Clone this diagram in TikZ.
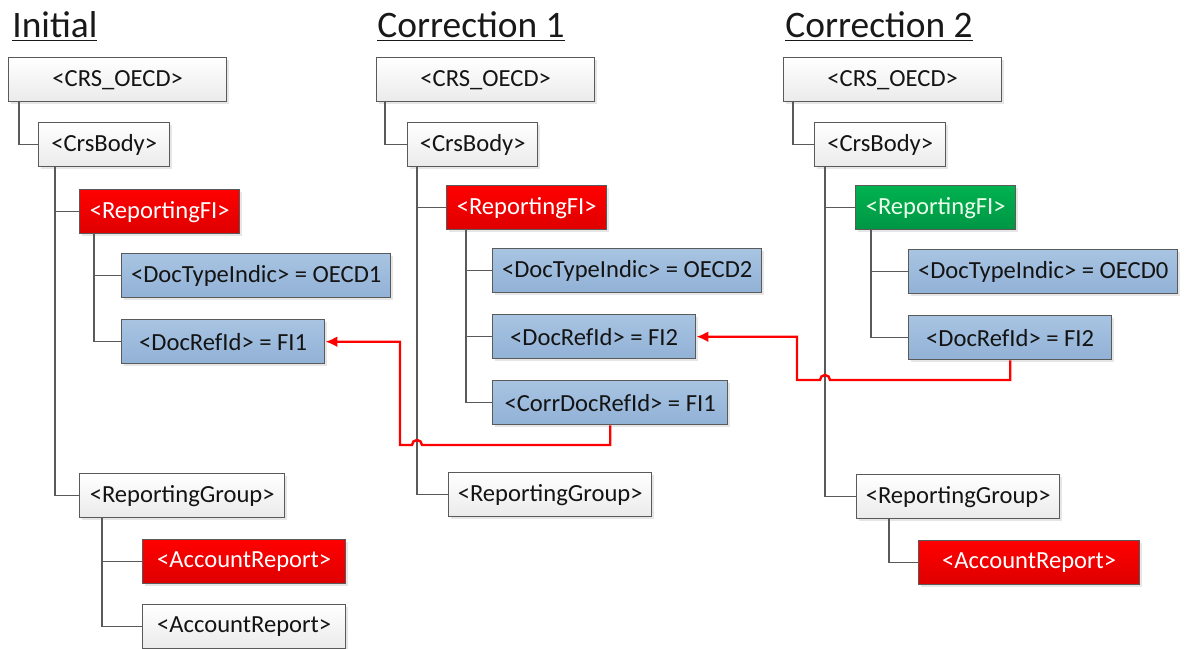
\documentclass[tikz,border=0pt]{standalone}
\usepackage{fontspec}
\setmainfont{Carlito}
\usepackage{xcolor}
\usepackage{tikz}
\usetikzlibrary{calc, arrows.meta, shadows}
\definecolor{boxline}{RGB}{90,90,90}
\definecolor{boxtext}{RGB}{20,20,20}
\definecolor{blueTop}{RGB}{168,196,226}
\definecolor{blueBot}{RGB}{145,177,214}
\definecolor{redTop}{RGB}{255,0,0}
\definecolor{redBot}{RGB}{222,0,0}
\definecolor{greenTop}{RGB}{0,178,80}
\definecolor{greenBot}{RGB}{0,150,68}
\tikzset{
    box/.style={
        rectangle, draw=boxline, line width=0.7pt, anchor=north west,
        minimum height=22pt, inner sep=0pt, align=center,
        font=\fontsize{12.3}{14}\selectfont, text=boxtext,
        drop shadow={shadow xshift=1.2pt, shadow yshift=-1.2pt, opacity=0.2}
    },
    plain/.style={box, top color=white, bottom color=black!8},
    field/.style={box, top color=blueTop, bottom color=blueBot},
    changed/.style={box, top color=redTop, bottom color=redBot, text=white},
    fresh/.style={box, top color=greenTop, bottom color=greenBot, text=white!92!green},
    title/.style={anchor=base west, inner sep=0pt, font=\fontsize{18.7}{22}\selectfont, text=black!90},
    link/.style={draw=boxline, line width=0.75pt},
    reflink/.style={-{Latex[length=6pt,width=5.5pt]}, draw=red, line width=1.2pt}
}

\begin{document}
\begin{tikzpicture}[x=0.5pt, y=-0.5pt]
        \useasboundingbox (0,0) rectangle (1187,648);

        % Titles
        \node[title] (titleA) at (12,37) {\underline{Initial}};
        \node[title] (titleB) at (377,37) {\underline{Correction 1}};
        \node[title] (titleC) at (785,37) {\underline{Correction 2}};

        % Initial
        \node[plain, minimum width=109pt] (crsA) at (8,57) {<CRS\_OECD>};
        \node[plain, minimum width=65.5pt] (bodyA) at (38,122) {<CrsBody>};
        \node[changed, minimum width=80pt] (fiA) at (79,189) {<ReportingFI>};
        \node[field, minimum width=134.5pt] (typeA) at (121,253) {<DocTypeIndic> = OECD1};
        \node[field, minimum width=101.5pt] (refA) at (121,319) {<DocRefId> = FI1};
        \node[plain, minimum width=102.5pt] (groupA) at (79,473) {<ReportingGroup>};
        \node[changed, minimum width=101.5pt] (accA1) at (142,539) {<AccountReport>};
        \node[plain, minimum width=101.5pt] (accA2) at (142,604) {<AccountReport>};

        \draw[link] ([xshift=5.5pt]crsA.south west) |- (bodyA.west);
        \draw[link] ([xshift=8.5pt]bodyA.south west) |- (fiA.west)
                    ([xshift=8.5pt]bodyA.south west) |- (groupA.west);
        \draw[link] ([xshift=7.5pt]fiA.south west) |- (typeA.west)
                    ([xshift=7.5pt]fiA.south west) |- (refA.west);
        \draw[link] ([xshift=11.5pt]groupA.south west) |- (accA1.west)
                    ([xshift=11.5pt]groupA.south west) |- (accA2.west);

        % Correction 1
        \node[plain, minimum width=109pt] (crsB) at (376,57) {<CRS\_OECD>};
        \node[plain, minimum width=65pt] (bodyB) at (407,122) {<CrsBody>};
        \node[changed, minimum width=80pt] (fiB) at (446,185) {<ReportingFI>};
        \node[field, minimum width=134.5pt] (typeB) at (492,248) {<DocTypeIndic> = OECD2};
        \node[field, minimum width=101.5pt] (refB) at (492,314) {<DocRefId> = FI2};
        \node[field, minimum width=117.5pt] (corrB) at (492,380) {<CorrDocRefId> = FI1};
        \node[plain, minimum width=101.5pt] (groupB) at (448,472) {<ReportingGroup>};

        \draw[link] ([xshift=4.5pt]crsB.south west) |- (bodyB.west);
        \draw[link] ([xshift=5pt]bodyB.south west) |- (fiB.west)
                    ([xshift=5pt]bodyB.south west) |- (groupB.west);
        \draw[link] ([xshift=10pt]fiB.south west) |- (typeB.west)
                    ([xshift=10pt]fiB.south west) |- (refB.west)
                    ([xshift=10pt]fiB.south west) |- (corrB.west);

        % Correction 2
        \node[plain, minimum width=109pt] (crsC) at (783,57) {<CRS\_OECD>};
        \node[plain, minimum width=65.5pt] (bodyC) at (814,122) {<CrsBody>};
        \node[fresh, minimum width=80pt] (fiC) at (855,185) {<ReportingFI>};
        \node[field, minimum width=134.5pt] (typeC) at (908,249) {<DocTypeIndic> = OECD0};
        \node[field, minimum width=101.5pt] (refC) at (908,315) {<DocRefId> = FI2};
        \node[plain, minimum width=101.5pt] (groupC) at (856,474) {<ReportingGroup>};
        \node[changed, minimum width=110.5pt] (accC) at (918,540) {<AccountReport>};

        \draw[link] ([xshift=5pt]crsC.south west) |- (bodyC.west);
        \draw[link] ([xshift=5.5pt]bodyC.south west) |- (fiC.west)
                    ([xshift=5.5pt]bodyC.south west) |- (groupC.west);
        \draw[link] ([xshift=8pt]fiC.south west) |- (typeC.west)
                    ([xshift=8pt]fiC.south west) |- (refC.west);
        \draw[link] ([xshift=16.5pt]groupC.south west) |- (accC.west);

        % References (hop over the trunk line)
        \coordinate (hopB) at (417,445);
        \coordinate (bendB) at (400,445);
        \draw[reflink] (corrB.south) |- ([xshift=2.5pt]hopB)
            arc[start angle=0, end angle=180, radius=2.5pt] -- (bendB) |- (refA.east);

        \coordinate (hopC) at (825,380);
        \coordinate (bendC) at (797,380);
        \draw[reflink] (refC.south) |- ([xshift=2.5pt]hopC)
            arc[start angle=0, end angle=180, radius=2.5pt] -- (bendC) |- (refB.east);
    \end{tikzpicture}
\end{document}
